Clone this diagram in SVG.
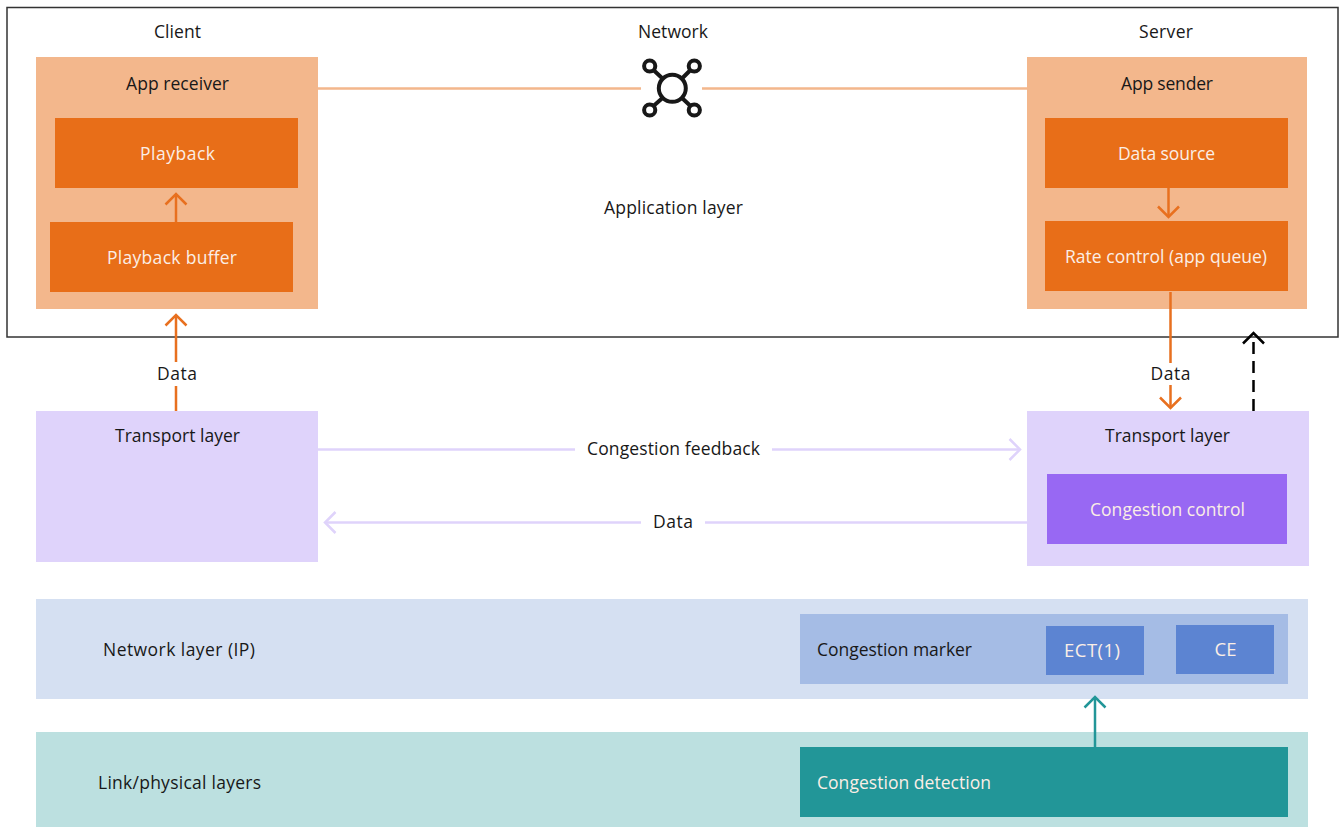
<svg xmlns="http://www.w3.org/2000/svg" width="1341" height="827" viewBox="0 0 1341 827">
<style>
text{font-family:"Open Sans","Noto Sans",sans-serif;font-size:17.500px;fill:#181818;text-anchor:middle}
text.w{fill:#fbeee6}
text.l{text-anchor:start}
text.big{font-size:18.500px}
.lo{fill:#f3b78c}.o{fill:#e86e18}.lp{fill:#dfd3fb}.p{fill:#9868f3}.lb{fill:#d5e0f2}.mb{fill:#a5bce5}.b{fill:#5c84d2}.lt{fill:#bce0e0}.t{fill:#229698}
.c{fill:none;stroke-width:2.5}
.co{stroke:#e8701f}.cp{stroke:#dfd3fb}.cf{stroke:#f3b78c}.ct{stroke:#229698}.ck{stroke:#000}
</style>
<defs>
<marker id="ao" markerUnits="userSpaceOnUse" markerWidth="26" markerHeight="26" refX="20" refY="13" orient="auto"><path d="M9.500 2.500L20 13L9.500 23.500" fill="none" stroke="#e8701f" stroke-width="2.500"/></marker>
<marker id="ap" markerUnits="userSpaceOnUse" markerWidth="26" markerHeight="26" refX="20" refY="13" orient="auto"><path d="M9.500 2.500L20 13L9.500 23.500" fill="none" stroke="#dfd3fb" stroke-width="2.500"/></marker>
<marker id="at" markerUnits="userSpaceOnUse" markerWidth="26" markerHeight="26" refX="20" refY="13" orient="auto"><path d="M9.500 2.500L20 13L9.500 23.500" fill="none" stroke="#229698" stroke-width="2.500"/></marker>
<marker id="ak" markerUnits="userSpaceOnUse" markerWidth="26" markerHeight="26" refX="20" refY="13" orient="auto"><path d="M9.500 2.500L20 13L9.500 23.500" fill="none" stroke="#000" stroke-width="2.500"/></marker>
</defs>
<rect width="1341" height="827" fill="#fff"/>
<g id="application-layer"><rect x="7" y="7.500" width="1331" height="329.500" fill="#fff" stroke="#333" stroke-width="1.500"/>
<text x="177.500" y="37.500" textLength="47">Client</text><text x="673" y="37.500" textLength="70">Network</text><text x="1166" y="37.500" textLength="54">Server</text><text x="673.500" y="213.500" textLength="139">Application layer</text></g>
<g id="app-receiver"><rect class="lo" x="36" y="57" width="282" height="252"/><text x="177.500" y="89.500" textLength="103">App receiver</text></g>
<g id="playback"><rect class="o" x="55" y="118" width="243" height="70"/><text class="w" x="177.500" y="159.500" textLength="75">Playback</text></g>
<g id="playback-buffer"><rect class="o" x="50" y="222" width="243" height="70"/><text class="w" x="172" y="263.500" textLength="130">Playback buffer</text></g>
<g id="app-sender"><rect class="lo" x="1027" y="57" width="280" height="252"/><text x="1167" y="89.500" textLength="92">App sender</text></g>
<g id="data-source"><rect class="o" x="1045" y="118" width="243" height="70"/><text class="w" x="1166.500" y="159.500" textLength="97">Data source</text></g>
<g id="rate-control"><rect class="o" x="1045" y="221" width="243" height="70"/><text class="w" x="1166" y="262.500" textLength="202">Rate control (app queue)</text></g>
<g id="network"><g fill="none" stroke="#181818" stroke-width="4"><circle cx="672.300" cy="88.300" r="13.500"/><circle cx="649.700" cy="66" r="5.600"/><circle cx="694.300" cy="66" r="5.600"/><circle cx="649.700" cy="110" r="5.600"/><circle cx="694.300" cy="110" r="5.600"/><path d="M654 70.500L662.500 78.500M690 70.500L682 78.500M654 105.500L662.500 98M690 105.500L682 98"/></g></g>
<g id="transport-client"><rect class="lp" x="36" y="411" width="282" height="151"/><text x="177.500" y="441.500" textLength="125">Transport layer</text></g>
<g id="transport-server"><rect class="lp" x="1027" y="411" width="282" height="155"/><text x="1167.500" y="441.500" textLength="125">Transport layer</text></g>
<g id="congestion-control"><rect class="p" x="1047" y="474" width="240" height="70"/><text class="w" x="1167.500" y="515.500" textLength="155">Congestion control</text></g>
<g id="network-layer"><rect class="lb" x="36" y="599" width="1272" height="100"/><text x="179" y="655.500" textLength="152">Network layer (IP)</text></g>
<g id="congestion-marker"><rect class="mb" x="800" y="614" width="488" height="70"/><text class="l" x="817" y="655.500" textLength="155">Congestion marker</text></g>
<g id="ect1"><rect class="b" x="1046" y="626" width="98" height="49"/><text class="w big" x="1092" y="656.500" textLength="56">ECT(1)</text></g>
<g id="ce"><rect class="b" x="1176" y="625" width="98" height="49"/><text class="w big" x="1225.500" y="655.500">CE</text></g>
<g id="link-layer"><rect class="lt" x="36" y="732" width="1272" height="95"/><text x="179.500" y="788.500" textLength="163">Link/physical layers</text></g>
<g id="congestion-detection"><rect class="t" x="800" y="747" width="488" height="70"/><text class="w l" x="817" y="788.500" textLength="174">Congestion detection</text></g>
<g id="connectors">
<path class="c cf" d="M318 88.500H641M702 88.500H1027"/>
<path class="c co" d="M176 222V194" marker-end="url(#ao)"/>
<path class="c co" d="M176 411V386M176 362V315" marker-end="url(#ao)"/>
<path class="c co" d="M1168.500 188V217" marker-end="url(#ao)"/>
<path class="c co" d="M1170.500 292V363M1170.500 385V408" marker-end="url(#ao)"/>
<path class="c ck" stroke-dasharray="12 7" d="M1253.500 411V333" marker-end="url(#ak)"/>
<path class="c cp" d="M318 449.500H575M772 449.500H1020" marker-end="url(#ap)"/>
<path class="c cp" d="M1027 522.500H705M641 522.500H325" marker-end="url(#ap)"/>
<path class="c ct" d="M1095 747V697" marker-end="url(#at)"/>
<text x="177" y="379.500" textLength="40">Data</text><text x="1170.500" y="379.500" textLength="40">Data</text><text x="673.500" y="455" textLength="173">Congestion feedback</text><text x="673" y="528" textLength="40">Data</text>
</g>
</svg>
